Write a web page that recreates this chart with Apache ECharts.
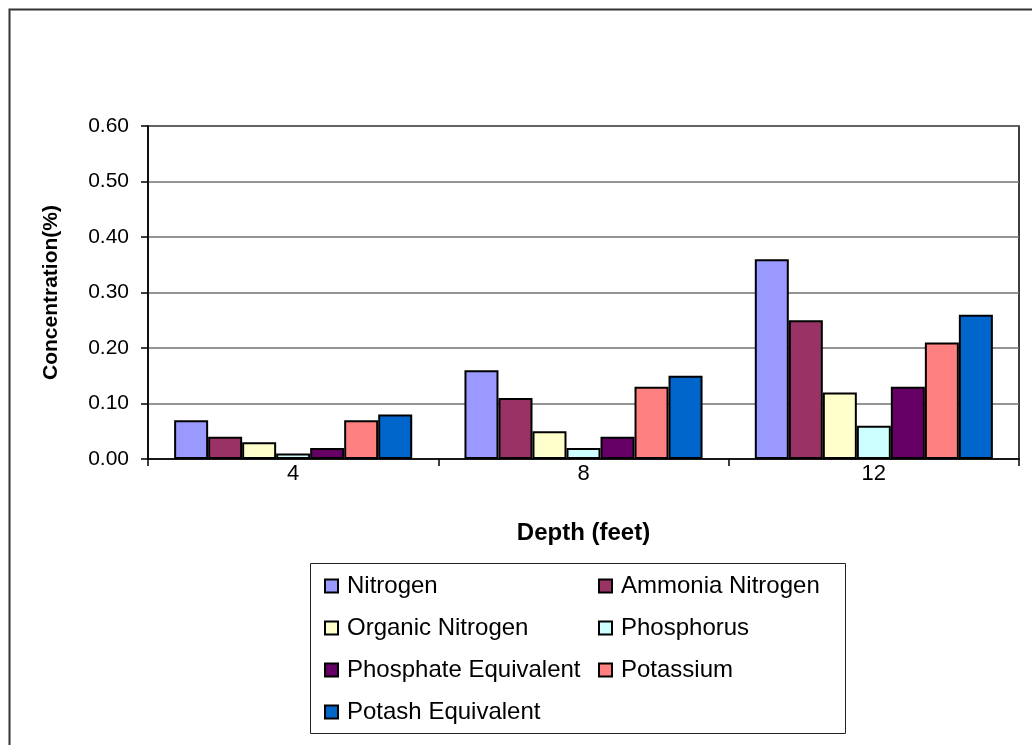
<!DOCTYPE html>
<html>
<head>
<meta charset="utf-8">
<script src="https://cdn.jsdelivr.net/npm/echarts@6/dist/echarts.min.js"></script>
<style>
html,body{margin:0;padding:0;background:#fff;}
#chart{width:1032px;height:745px;}
</style>
</head>
<body>
<div id="chart"></div>
<script>
var categories = ['4', '8', '12'];
var seriesNames = ['Nitrogen', 'Ammonia Nitrogen', 'Organic Nitrogen', 'Phosphorus', 'Phosphate Equivalent', 'Potassium', 'Potash Equivalent'];
var nitrogen = [0.07, 0.16, 0.36];
var ammoniaNitrogen = [0.04, 0.11, 0.25];
var organicNitrogen = [0.03, 0.05, 0.12];
var phosphorus = [0.01, 0.02, 0.06];
var phosphateEquivalent = [0.02, 0.04, 0.13];
var potassium = [0.07, 0.13, 0.21];
var potashEquivalent = [0.08, 0.15, 0.26];
var yTicks = [0, 0.1, 0.2, 0.3, 0.4, 0.5, 0.6];

var seriesData = [nitrogen, ammoniaNitrogen, organicNitrogen, phosphorus, phosphateEquivalent, potassium, potashEquivalent];
var colors = ['#9999FF', '#993366', '#FFFFCC', '#CCFFFF', '#660066', '#FF8080', '#0066CC'];

var font = 'Liberation Sans, Arial, sans-serif';
var chart = echarts.init(document.getElementById('chart'));

var legendCols = [324, 598];
var legendRows = [586, 628, 670, 712];
var legends = seriesNames.map(function (n, i) {
  return {
    data: [n],
    left: legendCols[i % 2],
    top: legendRows[Math.floor(i / 2)] - 13,
    itemWidth: 13,
    itemHeight: 13,
    icon: 'rect',
    padding: 0,
    selectedMode: false,
    textStyle: { fontFamily: font, fontSize: 24, color: '#000', lineHeight: 26, padding: [0, 0, 0, 4] }
  };
});

var series = seriesNames.map(function (n, i) {
  return {
    name: n,
    type: 'bar',
    data: seriesData[i],
    barGap: '0%',
    barCategoryGap: '18%',
    itemStyle: { color: colors[i], borderColor: '#000', borderWidth: 2 },
    emphasis: { disabled: true }
  };
});

chart.setOption({
  animation: false,
  backgroundColor: '#fff',
  color: colors,
  graphic: [
    { type: 'rect', left: 7, top: 7, shape: { width: 1100, height: 800 }, style: { fill: 'none', stroke: '#333', lineWidth: 2 }, z: -1 },
    { type: 'rect', left: 310, top: 563, shape: { width: 535, height: 170 }, style: { fill: '#fff', stroke: '#222', lineWidth: 1 }, z: -1 }
  ],
  grid: {
    left: 148, right: 13, top: 126, bottom: 286,
    show: true, borderColor: '#000', borderWidth: 1.5
  },
  legend: legends,
  xAxis: {
    type: 'category',
    data: categories,
    name: 'Depth (feet)',
    nameLocation: 'middle',
    nameGap: 62,
    nameTextStyle: { fontFamily: font, fontSize: 24, fontWeight: 'bold', color: '#000' },
    axisLine: { lineStyle: { color: '#000', width: 1.5 } },
    axisTick: { show: true, length: 7, lineStyle: { color: '#000', width: 1.5 } },
    axisLabel: { fontFamily: font, fontSize: 22, color: '#000', margin: 4 }
  },
  yAxis: {
    type: 'value',
    min: 0, max: 0.6, interval: 0.1,
    name: 'Concentration(%)',
    nameLocation: 'middle',
    nameGap: 86,
    nameTextStyle: { fontFamily: font, fontSize: 21, fontWeight: 'bold', color: '#000' },
    axisLine: { show: true, lineStyle: { color: '#000', width: 1.5 } },
    axisTick: { show: true, length: 7, lineStyle: { color: '#000', width: 1.5 } },
    axisLabel: {
      fontFamily: font, fontSize: 21, color: '#000', margin: 19,
      formatter: function (v) { return v.toFixed(2); }
    },
    splitLine: { lineStyle: { color: '#707070', width: 1.5 } }
  },
  series: series
});
</script>
</body>
</html>
